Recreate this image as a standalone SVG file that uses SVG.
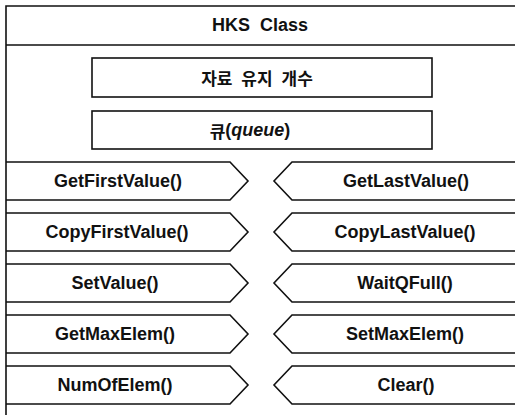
<svg xmlns="http://www.w3.org/2000/svg" width="515" height="415" viewBox="0 0 515 415">
<style>
.ln{fill:none;stroke:#111;stroke-width:1.6}
.bx{fill:#fff;stroke:#111;stroke-width:1.6}
.t{font-family:"Liberation Sans",Arial,"Noto Sans CJK KR",sans-serif;font-weight:bold;font-size:18px;fill:#111;text-anchor:middle;dominant-baseline:central}
.k{font-family:"Noto Sans CJK KR","Liberation Sans",sans-serif;font-weight:bold;font-size:17px;fill:#111;text-anchor:middle;dominant-baseline:central}
</style>
<rect width="515" height="415" fill="#fff"/>
<g id="class">
<path class="ln" d="M6,415 V6 H515 M6,45 H515"/>
<text class="t" x="260" y="25" word-spacing="5">HKS Class</text>
</g>
<g id="count">
<rect class="bx" x="92" y="58" width="340" height="39"/>
<text class="k" x="257" y="77" word-spacing="5">자료 유지 개수</text>
</g>
<g id="queue">
<rect class="bx" x="92" y="111" width="340" height="38"/>
<text class="t" x="250" y="130"><tspan font-family="Noto Sans CJK KR,sans-serif" font-size="17">큐</tspan>(<tspan font-style="italic">queue</tspan>)</text>
</g>
<g id="GetFirstValue"><path class="ln" d="M6,162 H230 L248,181 L230,200 H6"/><text class="t" x="118" y="181">GetFirstValue()</text></g>
<g id="CopyFirstValue"><path class="ln" d="M6,213 H230 L248,232 L230,251 H6"/><text class="t" x="117" y="232">CopyFirstValue()</text></g>
<g id="SetValue"><path class="ln" d="M6,264 H230 L248,283 L230,302 H6"/><text class="t" x="115" y="283">SetValue()</text></g>
<g id="GetMaxElem"><path class="ln" d="M6,315 H230 L248,334 L230,353 H6"/><text class="t" x="115" y="334">GetMaxElem()</text></g>
<g id="NumOfElem"><path class="ln" d="M6,366 H230 L248,385 L230,404 H6"/><text class="t" x="115" y="385">NumOfElem()</text></g>
<g id="GetLastValue"><path class="ln" d="M515,162 H292 L274,181 L292,200 H515"/><text class="t" x="406" y="181">GetLastValue()</text></g>
<g id="CopyLastValue"><path class="ln" d="M515,213 H292 L274,232 L292,251 H515"/><text class="t" x="405" y="232">CopyLastValue()</text></g>
<g id="WaitQFull"><path class="ln" d="M515,264 H292 L274,283 L292,302 H515"/><text class="t" x="405" y="283">WaitQFull()</text></g>
<g id="SetMaxElem"><path class="ln" d="M515,315 H292 L274,334 L292,353 H515"/><text class="t" x="405" y="334">SetMaxElem()</text></g>
<g id="Clear"><path class="ln" d="M515,366 H292 L274,385 L292,404 H515"/><text class="t" x="406" y="385">Clear()</text></g>
<g id="connectors"/>
</svg>
